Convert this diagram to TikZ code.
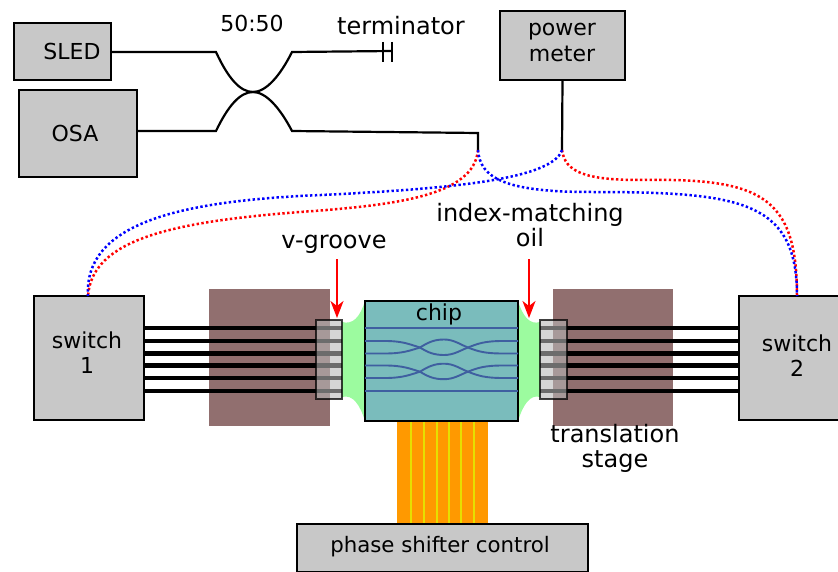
\documentclass[tikz,border=0pt]{standalone}
\usepackage{fontspec}
\setmainfont{DejaVu Sans}
\usetikzlibrary{arrows.meta}
\definecolor{boxgray}{HTML}{C8C8C8}
\definecolor{stagebrown}{HTML}{916F6F}
\definecolor{chipteal}{HTML}{7ABCBC}
\definecolor{oilgreen}{HTML}{9CFB9F}
\definecolor{ribbon}{HTML}{FF9900}
\definecolor{trace}{HTML}{E6E000}
\definecolor{wguide}{HTML}{3F5FA0}
\definecolor{groovegray}{HTML}{B8B8B8}
\tikzset{
  instr/.style={draw=black,line width=2pt,fill=boxgray,inner sep=0pt},
  lbl/.style={inner sep=0pt,align=center,font=\fontsize{22}{25.5}\selectfont},
  biglbl/.style={inner sep=0pt,align=center,font=\fontsize{24}{25}\selectfont},
  stagebox/.style={fill=stagebrown,draw=none},
  fibre/.style={line width=2.2pt,black},
  bundle/.style={line width=4.6pt,black},
  wg/.style={line width=1.9pt,wguide},
  bluedot/.style={blue,line width=2.5pt,dash pattern=on 2.4pt off 2.4pt},
  reddot/.style={red,line width=2.5pt,dash pattern=on 2.4pt off 2.4pt},
  redarrow/.style={red,line width=2pt,-{Stealth[length=17pt,width=13pt,inset=5pt]}},
  groove/.style={draw=black,line width=1.6pt,fill=groovegray,fill opacity=.59,draw opacity=.75},
}
\begin{document}
\begin{tikzpicture}[x=1pt,y=-1pt]
\useasboundingbox (0,0) rectangle (838,572);
\clip (0,0) rectangle (838,572);
% stages
\node[stagebox,minimum width=121pt,minimum height=137pt,inner sep=0pt] (stageL) at (269.5,357.5) {};
\node[stagebox,minimum width=120pt,minimum height=137pt,inner sep=0pt] (stageR) at (613,357.5) {};
% oil
\fill[oilgreen] (342,322) .. controls (353,325) and (360,317) .. (365,301) -- (365,421) .. controls (360,405) and (353,394) .. (342,397) -- cycle;
\fill[oilgreen] (518,301) .. controls (523,317) and (530,325) .. (540,322) -- (540,397) .. controls (530,394) and (523,405) .. (518,421) -- cycle;
% ribbon
\node[fill=ribbon,draw=none,minimum width=91pt,minimum height=103pt,inner sep=0pt] (flex) at (442.5,472.5) {};
\foreach \x in {411,424,437,449,461,474} \draw[trace,line width=2pt] (\x,421) -- (\x,524);
% boxes
\node[instr,minimum width=97pt,minimum height=57pt] (sled) at (62.5,51.5) {};
\node[instr,minimum width=118pt,minimum height=87pt] (osa) at (78,133.5) {};
\node[instr,minimum width=125pt,minimum height=69pt] (pm) at (562.5,45.5) {};
\node[instr,minimum width=110pt,minimum height=124pt] (sw1) at (89,358) {};
\node[instr,minimum width=116pt,minimum height=124pt] (sw2) at (797,358) {};
\node[instr,minimum width=291pt,minimum height=48pt] (psc) at (442.5,548) {};
\node[lbl] (lsled) at (72,51) {SLED};
\node[lbl] (losa) at (75,133) {OSA};
\node[lbl] (lpm) at (562,42.5) {power\\meter};
\node[lbl] (lsw1) at (87,352.5) {switch\\1};
\node[lbl] (lsw2) at (797,355.5) {switch\\2};
\node[lbl,font=\fontsize{21.3}{25}\selectfont] (lpsc) at (440,547) {phase shifter control};
% chip
\node[draw=black,line width=1.8pt,fill=chipteal,minimum width=153pt,minimum height=120pt,inner sep=0pt] (chipbox) at (441.5,361) {};
\node[lbl] (chiplbl) at (439,314) {chip};
\draw[wg] (365,328) -- (518,328);
\draw[wg] (365,391) -- (518,391);
\foreach \a/\b/\m in {341/353.5/347.5,365.5/378/371.7}{
  \pgfmathsetmacro{\au}{\m-8}
  \pgfmathsetmacro{\ad}{\m+7.5}
  \draw[wg] (365,\a) -- (385,\a) .. controls (403,\a) and (410,\m-3) .. (420,\m) .. controls (428,\m+5) and (434,\ad) .. (444,\ad) .. controls (454,\ad) and (460,\m+3) .. (468,\m) .. controls (478,\m-4) and (485,\a) .. (503,\a) -- (518,\a);
  \draw[wg] (365,\b) -- (385,\b) .. controls (403,\b) and (410,\m+3) .. (420,\m) .. controls (428,\m-5) and (434,\au) .. (444,\au) .. controls (454,\au) and (460,\m-3) .. (468,\m) .. controls (478,\m+4) and (485,\b) .. (503,\b) -- (518,\b);
}
% bundles and v-grooves
\foreach \y in {328,341,353.5,365.5,378,391}{
  \draw[bundle] (144,\y) -- (342,\y);
  \draw[bundle] (540,\y) -- (738,\y);
}
\node[groove,minimum width=26pt,minimum height=79pt,inner sep=0pt] (grooveL) at (329,359.5) {};
\node[groove,minimum width=27pt,minimum height=79pt,inner sep=0pt] (grooveR) at (553.5,359.5) {};
% coupler
\coordinate (cT) at (253,92);
\coordinate (termA) at (392,51);
\coordinate (jA) at (478,150);
\coordinate (jB) at (562,150);
\coordinate (cUL) at (216,52);
\coordinate (cUR) at (292,52);
\coordinate (cLL) at (216,131);
\coordinate (cLR) at (292,131);
\coordinate (bend) at (478,133);
\coordinate (sw1top) at (88,296);
\coordinate (sw2top) at (797,296);
\draw[fibre] (sled.east |- cUL) -- (cUL) .. controls (228,78) and (240,92) .. (cT) .. controls (266,92) and (280,76) .. (cUR) -- (termA);
\draw[fibre] (osa.east |- cLL) -- (cLL) .. controls (228,106) and (240,92) .. (cT) .. controls (266,92) and (280,108) .. (cLR) -- (bend) -- (jA);
\draw[fibre] (pm.south) -- (jB);
\draw[black,line width=1.8pt] (383,42) -- (383,62);
\draw[black,line width=1.8pt] (392,42) -- (392,62);
% dotted fibres
\draw[reddot] (jA) .. controls (474,195) and (400,205) .. (300,212) .. controls (170,222) and (92,240) .. (sw1top);
\draw[reddot] (jB) .. controls (565,172) and (585,180) .. (640,180) .. controls (760,178) and (797,195) .. (sw2top);
\draw[bluedot] (jB) .. controls (552,182) and (430,190) .. (300,196) .. controls (175,203) and (84,225) .. (sw1top);
\draw[bluedot] (jA) .. controls (480,178) and (505,192) .. (590,192) .. controls (740,192) and (797,200) .. (sw2top);
% arrows
\coordinate (aL) at (337,259);
\coordinate (aR) at (529,259);
\coordinate (aLe) at (337,318);
\coordinate (aRe) at (529,318);
\draw[redarrow] (aL) -- (aLe);
\draw[redarrow] (aR) -- (aRe);
% labels
\node[lbl] (l5050) at (252,23) {50:50};
\node[biglbl] (lterm) at (401,26) {terminator};
\node[biglbl] (lv) at (334,244) {v-groove};
\node[biglbl] (lindex) at (530,225.5) {index-matching\\oil};
\node[biglbl] (ltrans) at (615,448) {translation\\stage};
\end{tikzpicture}
\end{document}
